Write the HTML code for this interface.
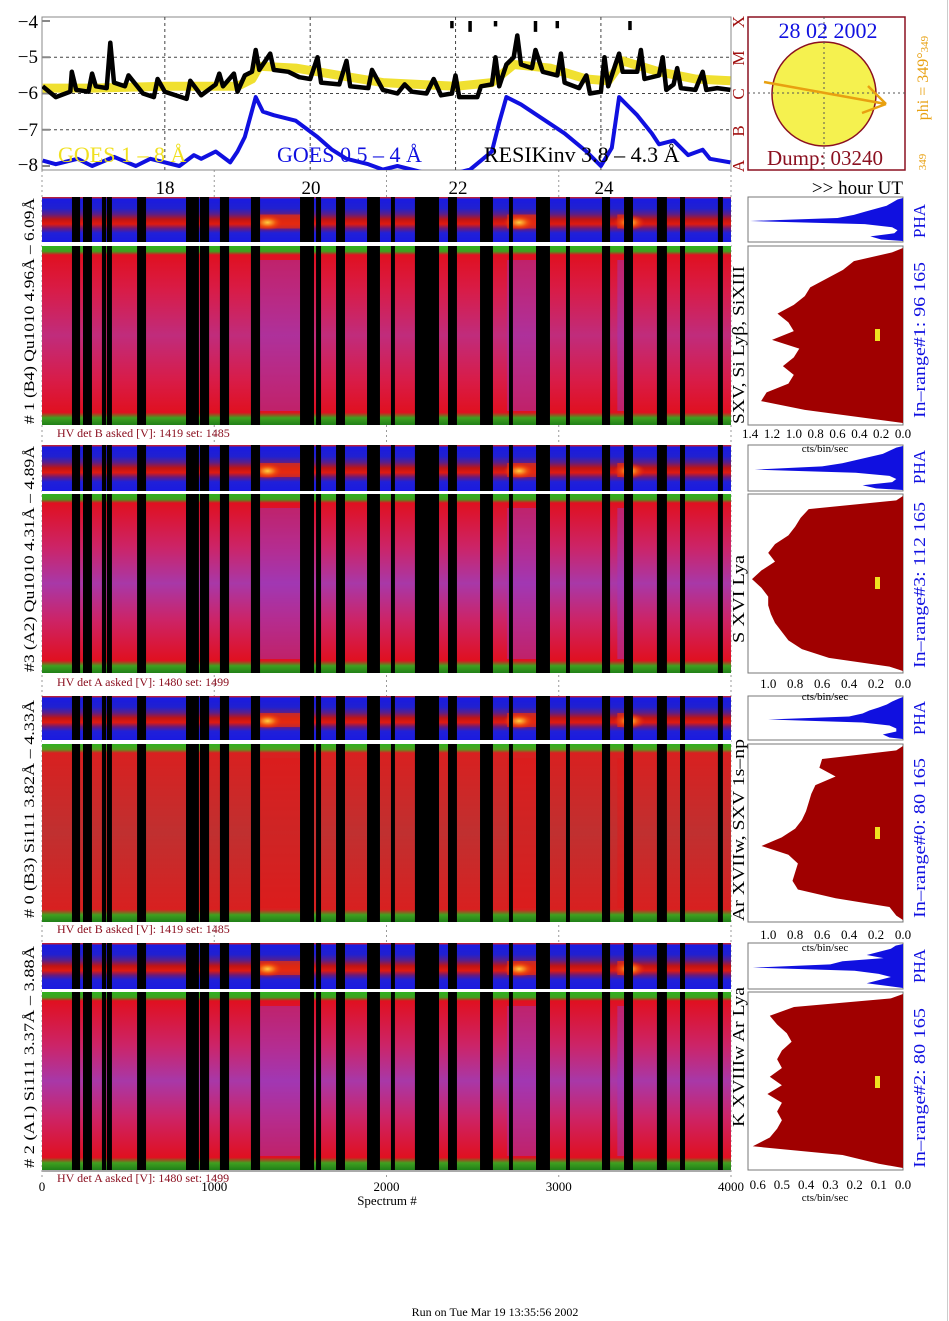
<!DOCTYPE html>
<html><head><meta charset="utf-8">
<style>
html,body{margin:0;padding:0;background:#fff;}
svg{display:block;font-family:"Liberation Serif",serif;}
</style></head>
<body>
<svg id="fig" xmlns="http://www.w3.org/2000/svg" width="949" height="1321" viewBox="0 0 949 1321">
<defs>
<linearGradient id="gPha" x1="0" y1="0" x2="0" y2="1">
<stop offset="0" stop-color="#e02010"/><stop offset="0.05" stop-color="#1a1ae0"/>
<stop offset="0.25" stop-color="#2020d0"/><stop offset="0.38" stop-color="#5a1f8a"/>
<stop offset="0.5" stop-color="#c01414"/><stop offset="0.6" stop-color="#e01a10"/>
<stop offset="0.7" stop-color="#6a1a7a"/><stop offset="0.8" stop-color="#2020d8"/>
<stop offset="1" stop-color="#1a1ae0"/></linearGradient>
<linearGradient id="gMainA" x1="0" y1="0" x2="0" y2="1">
<stop offset="0" stop-color="#30b020"/><stop offset="0.03" stop-color="#40a020"/>
<stop offset="0.05" stop-color="#e01020"/><stop offset="0.25" stop-color="#d81c48"/>
<stop offset="0.5" stop-color="#c02c7c"/><stop offset="0.75" stop-color="#d81c48"/>
<stop offset="0.93" stop-color="#e01020"/><stop offset="0.96" stop-color="#40a020"/>
<stop offset="1" stop-color="#208018"/></linearGradient>
<linearGradient id="gMainB" x1="0" y1="0" x2="0" y2="1">
<stop offset="0" stop-color="#30b020"/><stop offset="0.03" stop-color="#40a020"/>
<stop offset="0.05" stop-color="#e01020"/><stop offset="0.3" stop-color="#cc2468"/>
<stop offset="0.5" stop-color="#a838a8"/><stop offset="0.7" stop-color="#cc2468"/>
<stop offset="0.93" stop-color="#e01020"/><stop offset="0.96" stop-color="#40a020"/>
<stop offset="1" stop-color="#208018"/></linearGradient>
<linearGradient id="gMainC" x1="0" y1="0" x2="0" y2="1">
<stop offset="0" stop-color="#30b020"/><stop offset="0.03" stop-color="#50a020"/>
<stop offset="0.05" stop-color="#d82020"/><stop offset="0.5" stop-color="#c03030"/>
<stop offset="0.93" stop-color="#d82020"/><stop offset="0.96" stop-color="#40a020"/>
<stop offset="1" stop-color="#208018"/></linearGradient>
<radialGradient id="gFlare"><stop offset="0" stop-color="#ffd040"/><stop offset="0.5" stop-color="#f05010"/><stop offset="1" stop-color="#e02010" stop-opacity="0"/></radialGradient>
</defs>

<g id="grid-bg"></g>

<rect x="42" y="17" width="689" height="153" fill="none" stroke="#888" stroke-width="1"/>
<g id="top-grid"></g>
<g id="top-series"></g>
<g font-size="19" text-anchor="end" fill="#000">
<text x="38" y="28">−4</text><text x="38" y="63">−5</text><text x="38" y="99">−6</text><text x="38" y="136">−7</text><text x="38" y="171">−8</text>
</g>
<g font-size="22">
<text x="58" y="162" fill="#f0e020">GOES 1 – 8 Å</text>
<text x="277" y="162" fill="#1010e0">GOES 0.5 – 4 Å</text>
<text x="484" y="162" fill="#000">RESIKinv 3.8 – 4.3 Å</text>
</g>
<g font-size="17" fill="#a01010">
<text transform="translate(744,22) rotate(-90)" text-anchor="middle">X</text>
<text transform="translate(744,58) rotate(-90)" text-anchor="middle">M</text>
<text transform="translate(744,94) rotate(-90)" text-anchor="middle">C</text>
<text transform="translate(744,131) rotate(-90)" text-anchor="middle">B</text>
<text transform="translate(744,166) rotate(-90)" text-anchor="middle">A</text>
</g>
<g font-size="19" text-anchor="middle">
<text x="165" y="194">18</text><text x="311" y="194">20</text><text x="458" y="194">22</text><text x="604" y="194">24</text>
</g>
<text x="903" y="194" font-size="19" text-anchor="end">&gt;&gt; hour UT</text>

<g>
<rect x="748" y="17" width="157" height="153" fill="#fff" stroke="#8b1020" stroke-width="1.5"/>
<line x1="824" y1="17" x2="824" y2="170" stroke="#555" stroke-dasharray="2,3"/>
<line x1="748" y1="93" x2="905" y2="93" stroke="#555" stroke-dasharray="2,3"/>
<circle cx="824" cy="94" r="52" fill="#f4f040" fill-opacity="0.92" stroke="#8b1020" stroke-width="1.5"/>
<line x1="824" y1="42" x2="824" y2="146" stroke="#555" stroke-dasharray="2,3"/>
<line x1="772" y1="93" x2="876" y2="93" stroke="#555" stroke-dasharray="2,3"/>
<g stroke="#e8a010" stroke-width="2.5" fill="none">
<line x1="764" y1="82" x2="886" y2="104"/><line x1="886" y1="104" x2="868" y2="86"/><line x1="886" y1="104" x2="862" y2="113"/>
</g>
<text x="828" y="38" font-size="22" fill="#1010e0" text-anchor="middle">28 02 2002</text>
<text x="825" y="165" font-size="21" fill="#8b1020" text-anchor="middle">Dump: 03240</text>
</g>
<text transform="translate(928,78) rotate(-90)" font-size="16" fill="#e8a010" text-anchor="middle">phi = 349°<tspan font-size="11">349</tspan></text>
<text transform="translate(926,162) rotate(-90)" font-size="11" fill="#e8a010" text-anchor="middle">349</text>

<g id="panels"></g>

<g font-size="15" fill="#000" text-anchor="middle">
<text transform="translate(34,311) rotate(-90)" textLength="226" lengthAdjust="spacingAndGlyphs">#  1  (B4)  Qu1010  4.96Å  –  6.09Å</text>
<text transform="translate(34,559) rotate(-90)" textLength="226" lengthAdjust="spacingAndGlyphs">#3  (A2)  Qu1010   4.31Å  –  4.89Å</text>
<text transform="translate(34,809) rotate(-90)" textLength="218" lengthAdjust="spacingAndGlyphs">#  0  (B3)  Si111   3.82Å –  4.33Å</text>
<text transform="translate(34,1057) rotate(-90)" textLength="222" lengthAdjust="spacingAndGlyphs">#  2  (A1)  Si111   3.37Å –  3.88Å</text>
</g>
<g font-size="17" fill="#000" text-anchor="middle">
<text transform="translate(744,345) rotate(-90)" textLength="158" lengthAdjust="spacingAndGlyphs">SXV, Si Lyβ, SiXIII</text>
<text transform="translate(744,599) rotate(-90)" textLength="88" lengthAdjust="spacingAndGlyphs">S XVI Lya</text>
<text transform="translate(744,830) rotate(-90)" textLength="182" lengthAdjust="spacingAndGlyphs">Ar XVIIw,  SXV  1s–np</text>
<text transform="translate(744,1057) rotate(-90)" textLength="140" lengthAdjust="spacingAndGlyphs">K XVIIIw Ar Lya</text>
</g>
<g font-size="12" fill="#8b1020">
<text x="57" y="437">HV det B asked [V]:  1419 set:  1485</text>
<text x="57" y="686">HV det A asked [V]:  1480 set:  1499</text>
<text x="57" y="933">HV det B asked [V]:  1419 set:  1485</text>
<text x="57" y="1182">HV det A asked [V]:  1480 set:  1499</text>
</g>
<g font-size="17" fill="#1010e0" text-anchor="middle">
<text transform="translate(925,221) rotate(-90)">PHA</text>
<text transform="translate(925,467) rotate(-90)">PHA</text>
<text transform="translate(925,718) rotate(-90)">PHA</text>
<text transform="translate(925,966) rotate(-90)">PHA</text>
</g>
<g font-size="17" fill="#1010e0" text-anchor="middle">
<text transform="translate(925,340) rotate(-90)" textLength="156" lengthAdjust="spacingAndGlyphs">In–range#1:   96 165</text>
<text transform="translate(925,585) rotate(-90)" textLength="166" lengthAdjust="spacingAndGlyphs">In–range#3:   112 165</text>
<text transform="translate(925,838) rotate(-90)" textLength="160" lengthAdjust="spacingAndGlyphs">In–range#0:    80 165</text>
<text transform="translate(925,1088) rotate(-90)" textLength="160" lengthAdjust="spacingAndGlyphs">In–range#2:    80 165</text>
</g>
<g id="hist-axes" font-size="13" text-anchor="middle"></g>
<g id="x-axis" font-size="13" text-anchor="middle"></g>
<text x="387" y="1205" font-size="13" text-anchor="middle">Spectrum #</text>
<text x="495" y="1316" font-size="12" text-anchor="middle">Run on Tue Mar 19 13:35:56 2002</text>
<line x1="947.5" y1="0" x2="947.5" y2="1321" stroke="#ccc"/>
</svg>

<script>
const resikHours=[16.32,16.5,16.7,16.72,16.78,16.95,17.0,17.05,17.2,17.25,17.3,17.45,17.5,17.7,17.85,17.9,18.0,18.3,18.35,18.5,18.7,18.75,18.8,18.95,19.0,19.1,19.2,19.25,19.3,19.45,19.5,19.7,19.85,20.0,20.1,20.15,20.4,20.5,20.55,20.8,20.85,21.0,21.2,21.3,21.4,21.6,21.7,21.8,21.95,22.0,22.05,22.3,22.35,22.5,22.55,22.6,22.7,22.8,22.85,22.9,23.05,23.1,23.2,23.4,23.45,23.5,23.7,23.8,23.85,24.0,24.05,24.1,24.2,24.25,24.3,24.5,24.55,24.6,24.8,24.85,24.9,25.0,25.05,25.1,25.3,25.4,25.45,25.6,25.78];
const resikValues=[-5.8,-6.1,-5.95,-5.4,-5.9,-5.95,-5.45,-5.8,-5.85,-4.6,-5.7,-5.8,-5.5,-6.0,-6.1,-5.6,-5.95,-6.15,-5.65,-6.05,-5.75,-5.45,-5.8,-5.45,-5.95,-5.5,-5.4,-4.8,-5.35,-4.9,-5.35,-5.4,-5.55,-5.6,-5.0,-5.7,-5.75,-5.1,-5.8,-5.85,-5.35,-5.9,-6.0,-5.75,-5.95,-6.0,-5.6,-6.05,-6.0,-5.5,-6.1,-6.1,-5.8,-5.75,-5.0,-5.8,-5.2,-5.0,-4.4,-5.2,-5.3,-4.8,-5.4,-5.5,-4.9,-5.7,-5.85,-5.5,-6.0,-5.95,-5.0,-5.8,-5.2,-4.9,-5.4,-5.4,-4.8,-5.6,-5.5,-5.0,-5.9,-5.75,-5.3,-5.85,-5.9,-5.4,-5.9,-5.85,-5.9];
const resikTopHours=[21.95,22.2,22.55,23.1,23.4,24.4];
const resikTopValues=[-4.2,-4.3,-4.15,-4.3,-4.2,-4.25];
const goesLongHours=[16.32,17.0,18.0,19.0,19.2,19.3,19.8,20.4,21.0,22.0,22.5,22.8,23.3,23.8,24.1,24.3,24.8,25.3,25.78];
const goesLongValues=[-5.85,-5.85,-5.8,-5.8,-5.6,-5.25,-5.3,-5.5,-5.7,-5.8,-5.7,-5.2,-5.3,-5.6,-5.65,-5.1,-5.4,-5.6,-5.65];
const goesShortHours=[16.32,16.5,16.8,17.0,17.3,17.6,17.8,18.2,18.4,18.5,18.7,18.9,19.0,19.1,19.25,19.35,19.5,19.8,20.1,20.3,20.5,20.8,21.0,21.2,21.5,21.8,22.2,22.5,22.6,22.7,22.9,23.2,23.5,23.8,24.0,24.15,24.25,24.4,24.5,24.7,24.8,25.0,25.2,25.4,25.5,25.78];
const goesShortValues=[-7.85,-7.95,-7.8,-8.0,-7.75,-8.0,-7.8,-8.0,-7.7,-7.8,-7.6,-7.9,-7.6,-7.2,-6.1,-6.5,-6.6,-6.75,-7.2,-7.55,-7.8,-7.95,-8.1,-8.0,-8.15,-8.3,-8.1,-7.6,-6.8,-6.1,-6.3,-6.7,-7.1,-7.6,-8.0,-7.5,-6.1,-6.4,-6.6,-7.1,-7.4,-7.3,-7.7,-7.55,-7.8,-7.9];
const hourTicks=[18,20,22,24];
const levelTicks=[-5,-6,-7];

const gapStart=[174,238,348,377,552,836,917,1033,1213,1498,1591,1707,1887,2026,2165,2357,2543,2711,2868,3042,3251,3379,3570,3704,3924];
const gapEnd  =[221,290,372,406,604,911,970,1086,1266,1579,1620,1759,1962,2049,2305,2409,2618,2734,2949,3065,3298,3431,3628,3733,3953];
const flareStart=[1240,2700,3340];
const flareEnd=[1500,2870,3430];
const spectrumTicks=[0,1000,2000,3000,4000];

const hist1=[0.1,0.45,0.55,0.7,0.85,0.9,1.0,1.15,1.05,1.0,1.2,0.95,1.0,1.1,1.0,1.05,1.25,1.3,0.9,0.3];
const hist2=[0.05,0.7,0.76,0.8,0.85,0.95,1.0,0.95,1.05,1.12,1.05,1.0,1.0,0.98,0.95,0.9,0.85,0.75,0.55,0.1];
const hist3=[0.05,0.6,0.62,0.5,0.65,0.68,0.7,0.72,0.75,0.8,0.9,1.05,0.85,0.78,0.8,0.82,0.78,0.5,0.1,0.05];
const hist4=[0.05,0.45,0.55,0.52,0.48,0.46,0.5,0.52,0.5,0.55,0.5,0.56,0.5,0.52,0.5,0.52,0.55,0.62,0.25,0.1];
const pha1=[0.05,0.1,0.15,0.25,0.35,0.45,0.6,1.4,0.35,0.1,0.05,0.08,0.3,0.2];
const pha2=[0.05,0.1,0.15,0.25,0.35,0.45,0.6,1.1,0.35,0.1,0.05,0.08,0.3,0.2];
const pha3=[0.03,0.08,0.12,0.18,0.25,0.3,0.4,1.0,0.3,0.1,0.05,0.05,0.15,0.1];
const pha4=[0.03,0.05,0.1,0.15,0.08,0.25,0.3,0.62,0.2,0.1,0.05,0.1,0.15,0.05];
const histMax=[1.42,1.15,1.15,0.64];
const hist1Ticks=[1.4,1.2,1.0,0.8,0.6,0.4,0.2,0.0];
const hist2Ticks=[1.0,0.8,0.6,0.4,0.2,0.0];
const hist4Ticks=[0.6,0.5,0.4,0.3,0.2,0.1,0.0];

const NS='http://www.w3.org/2000/svg';
function mk(parent,tag,attrs){const e=document.createElementNS(NS,tag);for(const k in attrs)e.setAttribute(k,attrs[k]);parent.appendChild(e);return e;}

const X0=42,X1=731,H0=16.31,H1=25.79;
const xh=h=>X0+(h-H0)/(H1-H0)*(X1-X0);
const yv=v=>21+(-4-v)/4*145;
const xs=s=>X0+s/4000*(X1-X0);

const bg=document.getElementById('grid-bg');
spectrumTicks.forEach(s=>{
  const l=mk(bg,'line',{x1:xs(s),y1:170,x2:xs(s),y2:1180,stroke:'#999','stroke-dasharray':'2,3'});
  
  
});

const tg=document.getElementById('top-grid');
hourTicks.forEach(h=>{
  const l=mk(tg,'line',{x1:xh(h),y1:17,x2:xh(h),y2:170,stroke:'#444','stroke-dasharray':'3,3'});
  
  
});
levelTicks.forEach(v=>{
  const l=mk(tg,'line',{x1:X0,y1:yv(v),x2:X1,y2:yv(v),stroke:'#444','stroke-dasharray':'3,3'});
  
  
});
[-4,-5,-6,-7,-8].forEach(v=>{
  const l=mk(tg,'line',{x1:X0,y1:yv(v),x2:X0+8,y2:yv(v),stroke:'#888','stroke-width':2});
  
  
});

const ts=document.getElementById('top-series');
const clip=mk(document.querySelector('defs'),'clipPath',{id:'topClip'});
mk(clip,'rect',{x:X0,y:17,width:X1-X0,height:153});
ts.setAttribute('clip-path','url(#topClip)');
function pathOf(hs,vs){return hs.map((h,i)=>(i?'L':'M')+xh(h).toFixed(1)+','+yv(vs[i]).toFixed(1)).join('');}
const yl=mk(ts,'path',{d:pathOf(goesLongHours,goesLongValues),fill:'none',stroke:'#f0e030','stroke-width':9,'stroke-linejoin':'round'});


const bl=mk(ts,'path',{d:pathOf(goesShortHours,goesShortValues),fill:'none',stroke:'#1010e0','stroke-width':4,'stroke-linejoin':'round'});


const rk=mk(ts,'path',{d:pathOf(resikHours,resikValues),fill:'none',stroke:'#000','stroke-width':4.5,'stroke-linejoin':'round'});


resikTopHours.forEach((h,i)=>{
  const l=mk(ts,'line',{x1:xh(h),y1:yv(-4),x2:xh(h),y2:yv(resikTopValues[i]),stroke:'#000','stroke-width':3.5});
  
  
});

const panels=[
 {pha:[197,242],main:[246,425],grad:'gMainA',hist:hist1,ph:pha1,mark:334},
 {pha:[445,491],main:[494,673],grad:'gMainB',hist:hist2,ph:pha2,mark:582},
 {pha:[696,740],main:[744,922],grad:'gMainC',hist:hist3,ph:pha3,mark:832},
 {pha:[943,989],main:[992,1170],grad:'gMainB',hist:hist4,ph:pha4,mark:1081}];
const pg=document.getElementById('panels');
panels.forEach((p,pi)=>{
  const g=mk(pg,'g',{});
  
  
  const ph=mk(g,'rect',{x:X0,y:p.pha[0],width:X1-X0,height:p.pha[1]-p.pha[0],fill:'url(#gPha)'});
  
  
  const mn=mk(g,'rect',{x:X0,y:p.main[0],width:X1-X0,height:p.main[1]-p.main[0],fill:'url(#'+p.grad+')'});
  
  
  flareStart.forEach((s,i)=>{
    const cy=(p.pha[0]+p.pha[1])/2+3;
    const band=mk(g,'rect',{x:xs(s),y:cy-8,width:xs(flareEnd[i])-xs(s),height:14,fill:'#e83010','fill-opacity':0.7});
    
    
    const f=mk(g,'ellipse',{cx:xs(s)+12,cy:cy,rx:16,ry:8,fill:'url(#gFlare)'});
    
    
    const m=mk(g,'rect',{x:xs(s),y:p.main[0]+14,width:xs(flareEnd[i])-xs(s),height:p.main[1]-p.main[0]-28,fill:pi==2?'#e01818':'#9a38c0','fill-opacity':0.45});
    
    
  });
  gapStart.forEach((s,i)=>{
    const r=mk(g,'rect',{x:xs(s),y:p.pha[0],width:xs(gapEnd[i])-xs(s),height:p.main[1]-p.pha[0],fill:'#000'});
    
    
  });
  const sep=mk(g,'rect',{x:X0,y:p.pha[1],width:X1-X0,height:p.main[0]-p.pha[1],fill:'#fff'});
  
  
  const HX0=748,HX1=903,max=histMax[pi];
  const hx=v=>HX1-Math.min(v,max)/max*(HX1-HX0);
  const fr1=mk(g,'rect',{x:HX0,y:p.pha[0],width:HX1-HX0,height:p.pha[1]-p.pha[0],fill:'#fff',stroke:'#777'});
  
  
  const fr2=mk(g,'rect',{x:HX0,y:p.main[0],width:HX1-HX0,height:p.main[1]-p.main[0],fill:'#fff',stroke:'#777'});
  
  
  function poly(arr,y0,y1){let d='M'+HX1+','+y0;arr.forEach((v,i)=>{const y=y0+(i+0.5)/arr.length*(y1-y0);d+='L'+hx(v).toFixed(1)+','+y.toFixed(1);});return d+'L'+HX1+','+y1+'Z';}
  const hp=mk(g,'path',{d:poly(p.ph,p.pha[0]+1,p.pha[1]-1),fill:'#1010e0'});
  
  
  const hm=mk(g,'path',{d:poly(p.hist,p.main[0]+2,p.main[1]-2),fill:'#a00000'});
  
  
  const mk1=mk(g,'rect',{x:875,y:p.mark-5,width:5,height:12,fill:'#f0e020'});
  
  
});

const ha=document.getElementById('hist-axes');
const axDefs=[[hist1Ticks,1.42,438,452],[hist2Ticks,1.15,688,700],[hist2Ticks,1.15,939,951],[hist4Ticks,0.64,1189,1201]];
axDefs.forEach(a=>{
  a[0].forEach(v=>{
    const t=mk(ha,'text',{x:903-v/a[1]*155,y:a[2]});
    t.textContent=v.toFixed(1);
    
    
  });
  const u=mk(ha,'text',{x:825,y:a[3],'font-size':11});
  u.textContent='cts/bin/sec';
  
  
});

const xa=document.getElementById('x-axis');
const base=mk(xa,'line',{x1:X0,y1:1171,x2:X1,y2:1171,stroke:'#aaa','stroke-width':2});


spectrumTicks.forEach(s=>{
  const t=mk(xa,'text',{x:xs(s),y:1191});
  t.textContent=String(s);
  
  
});
</script>
</body></html>
